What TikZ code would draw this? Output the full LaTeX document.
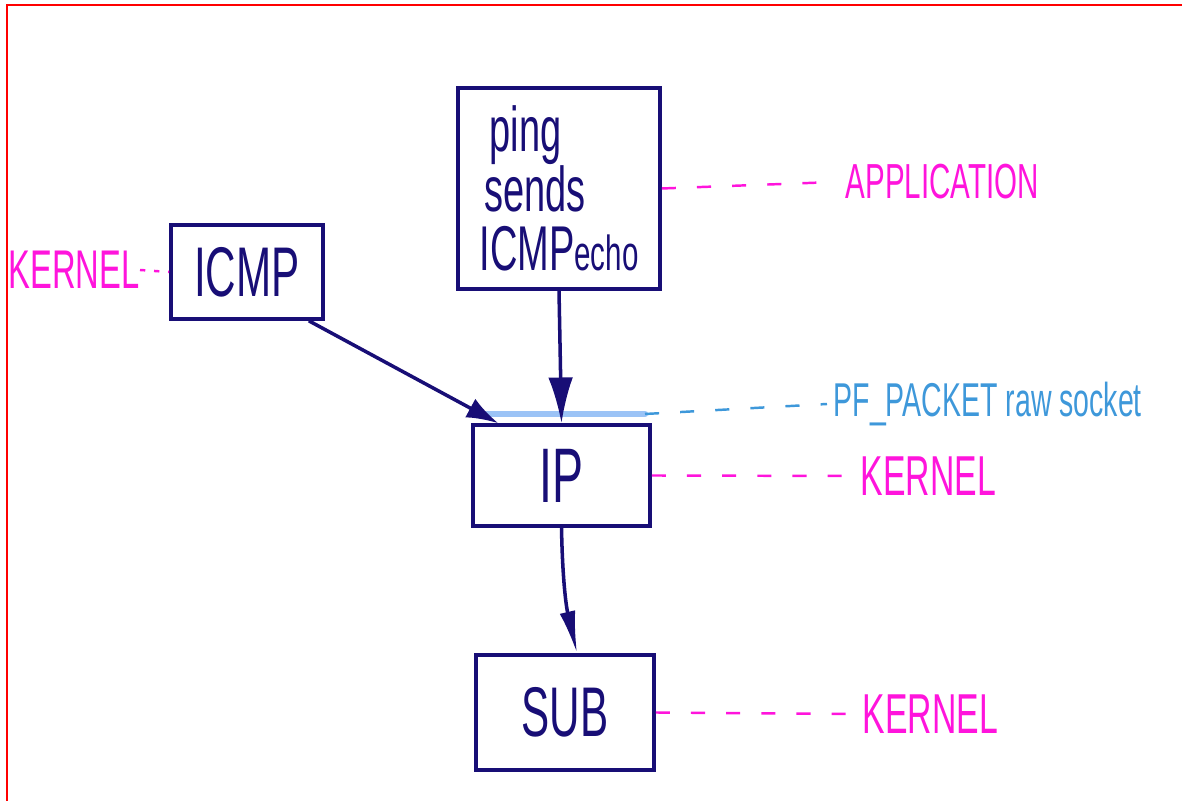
\documentclass[tikz,border=0pt]{standalone}
\usepackage{fontspec}
\newfontfamily\hand{Liberation Sans}[FakeStretch=0.6]
\usetikzlibrary{arrows.meta,positioning}
\definecolor{ink}{RGB}{24,14,118}
\definecolor{pink}{RGB}{255,20,220}
\definecolor{sky}{RGB}{62,152,218}
\definecolor{barblue}{RGB}{155,195,246}

\begin{document}
\begin{tikzpicture}[x=0.01cm,y=-0.01cm]
\useasboundingbox (0,0) rectangle (1182,801);
%frame
\draw[red,line width=0.7pt] (7,801) -- (7,5) -- (1182,5);
%%%%%%%%%%%%%%%%%%%%%%%%%%%%%%%%%%%%%%%%%%%%%%%%%%%%%%%%%%%%%%%%%%%%%%%%
%boxes
\tikzstyle{box}=[draw=ink,line width=1pt,inner sep=0pt,text=ink,font=\hand]
\tikzstyle{layer}=[text=pink,font=\hand\fontsize{16}{18}\selectfont,inner sep=0pt]
\tikzstyle{guide}=[pink,line width=0.7pt,dash pattern=on 4pt off 6pt]

\node[box,minimum width=1.52cm,minimum height=0.94cm,font=\hand\fontsize{20}{24}\selectfont] (icmp) at (247,272) {ICMP};
\node[box,minimum width=2.02cm,minimum height=2.01cm,align=left,font=\hand\fontsize{18}{17}\selectfont] (ping) at (559,188.5)
 {\hspace{0.1cm}ping\\\hspace{0.05cm}sends\\ICMP{\fontsize{14}{17}\selectfont echo}};
\node[box,minimum width=1.77cm,minimum height=1.01cm,font=\hand\fontsize{22}{24}\selectfont] (ip) at (561.5,475.5) {IP};
\node[box,minimum width=1.78cm,minimum height=1.15cm,font=\hand\fontsize{20}{24}\selectfont] (sub) at (565,712.5) {SUB};

%raw socket bar
\coordinate (barl) at (471,414);
\coordinate (barr) at (645,414);
\draw[barblue,line width=1.8pt,line cap=round] (barl) -- (barr);

%layers
\node[layer,anchor=west,font=\hand\fontsize{14}{16}\selectfont] (app) at (845,182) {APPLICATION};
\node[layer,anchor=west,text=sky,font=\hand\fontsize{13.5}{16}\selectfont] (pf) at (833,404) {PF\_PACKET raw socket};
\node[layer,anchor=west] (kip) at (860,476) {KERNEL};
\node[layer,anchor=west] (ksub) at (862,714) {KERNEL};
\node[layer,anchor=east,font=\hand\fontsize{15.5}{16}\selectfont] (kicmp) at (140,270) {KERNEL};

% arrows
\draw[ink,line width=1pt,->,>={Latex[length=9pt,width=6pt]}] ([xshift=-0.16cm]icmp.south east) -- ([xshift=0.27cm]ip.north west);
\draw[ink,line width=1pt,->,>={Latex[length=13pt,width=7pt]}] (ping.south) -- (ip.north);
\draw[ink,line width=1pt,->,>={Latex[length=12pt,width=4.5pt]}] (ip.south) to[bend right=6] ([xshift=0.12cm]sub.north);

% dashed guides
\draw[guide] (ping.east) -- ([xshift=-0.1cm]app.west);
\draw[guide,sky] (barr) -- ([xshift=-0.06cm]pf.west);
\draw[guide] (ip.east) -- ([xshift=-0.06cm]kip.west);
\draw[guide] (sub.east) -- ([xshift=-0.06cm]ksub.west);
\draw[guide,dash pattern=on 1.5pt off 2.5pt] (kicmp.east) -- (icmp.west);

\end{tikzpicture}
\end{document}
